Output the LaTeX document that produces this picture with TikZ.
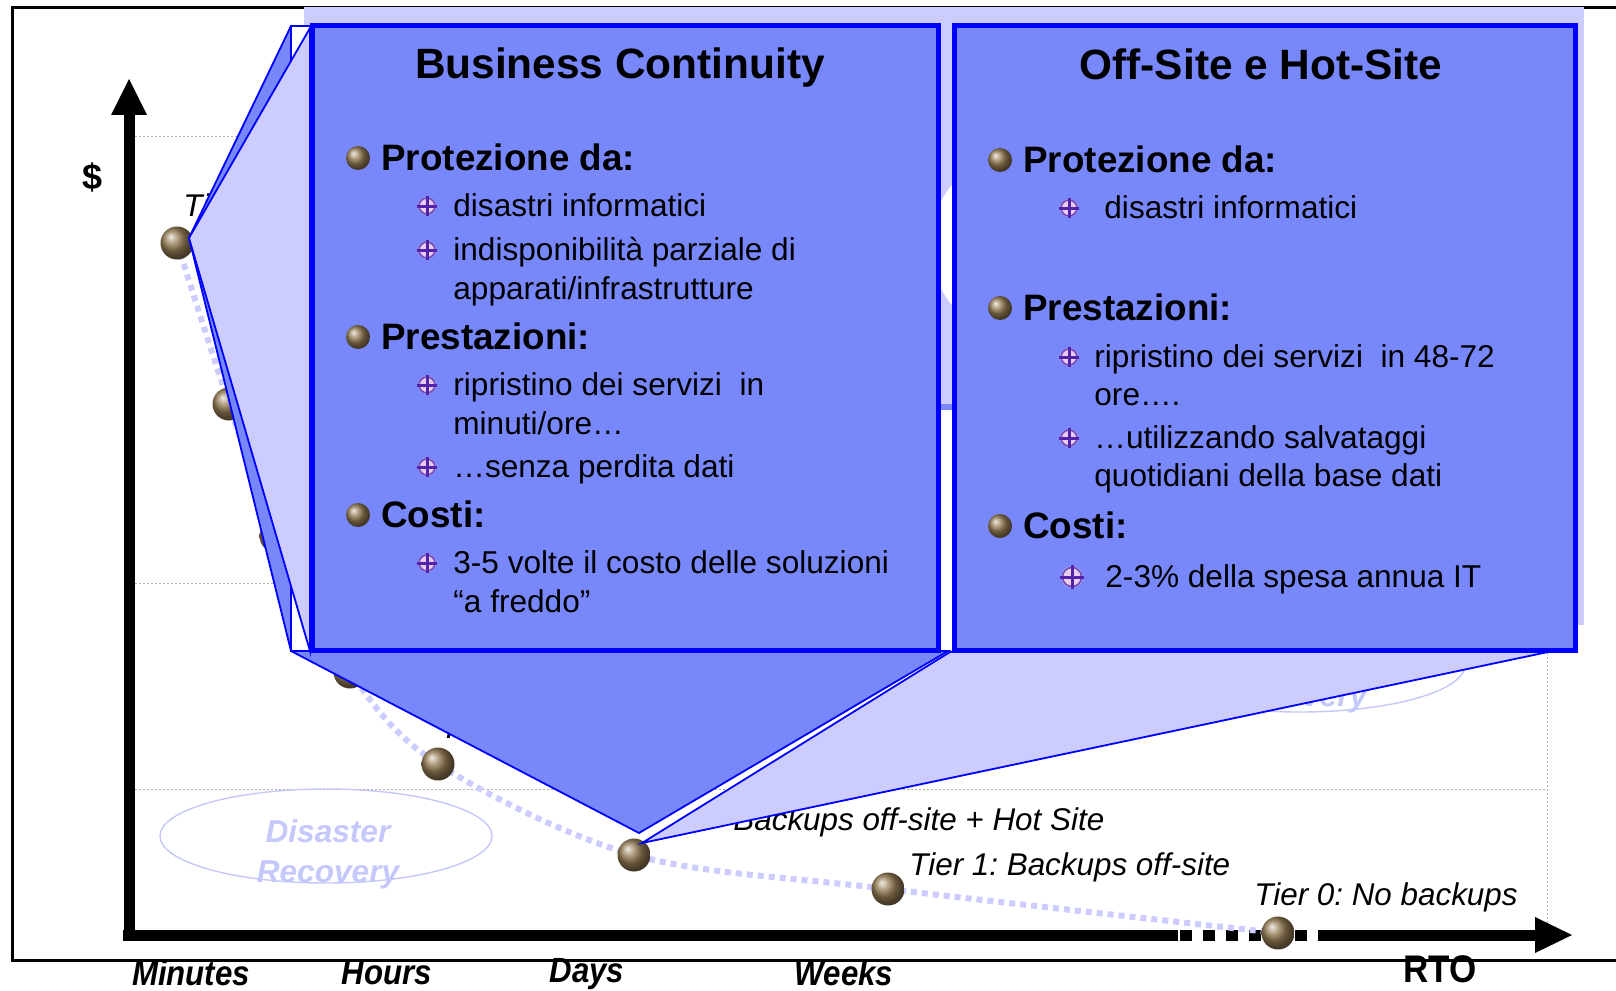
\documentclass[tikz,border=0pt]{standalone}
\usepackage{fontspec}
\setmainfont{Liberation Sans}
\usepackage{graphicx}
\frenchspacing

\definecolor{boxblue}{RGB}{120,136,250}
\definecolor{lavender}{RGB}{204,204,255}
\definecolor{faintblue}{RGB}{196,200,250}
\definecolor{bronze}{RGB}{150,125,85}
\definecolor{iconpurple}{RGB}{80,35,170}
\definecolor{iconlight}{RGB}{232,205,238}
\definecolor{gridgray}{RGB}{175,175,175}

\tikzset{
  subicon/.pic={
    \fill[iconlight] (0,0) circle [radius=9];
    \draw[iconpurple!80, line width=0.9pt] (0,0) circle [radius=8];
    \draw[iconpurple, line width=1.5pt] (-10,0) -- (10,0) (0,-10) -- (0,10);
  }
}

\begin{document}
\begin{tikzpicture}[x=0.5pt, y=-0.5pt,
  grid/.style={gridgray, line width=0.5pt, dash pattern=on 1pt off 1pt},
  axis/.style={line width=5.5pt},
  tiercurve/.style={lavender, line width=3pt, dash pattern=on 3pt off 2.5pt},
  tierball/.style={circle, minimum size=16.5pt, inner sep=0pt, shading=ball, ball color=bronze},
  bulletball/.style={circle, minimum size=12pt, inner sep=0pt, shading=ball, ball color=bronze},
  tierlabel/.style={anchor=base west, inner sep=0pt, font=\itshape\fontsize{15.7}{19}\selectfont},
  drlabel/.style={faintblue, anchor=base, inner sep=0pt, font=\bfseries\itshape\fontsize{15.8}{20}\selectfont},
  drline/.style={faintblue, line width=0.7pt},
  callout/.style={draw=blue, line width=0.9pt},
  infobox/.style={draw=blue, fill=boxblue, line width=2.5pt, inner sep=0pt},
  boxtitle/.style={anchor=base, inner sep=0pt, font=\bfseries\fontsize{21.2}{25}\selectfont},
  head/.style={anchor=base west, inner sep=0pt, font=\bfseries\fontsize{18.4}{22}\selectfont},
  subtext/.style={anchor=base west, inner sep=0pt, font=\fontsize{15.8}{19}\selectfont},
  axislabel/.style={inner sep=0pt, font=\bfseries\itshape\fontsize{15.6}{18}\selectfont}]
\useasboundingbox (0,0) rectangle (1616,990);
\fill[white] (0,0) rectangle (1616,990);

% frame and grid
\draw[line width=1.5pt] (12,8) rectangle (1660,960);
\draw[grid] (135,137) -- (1547,137);
\draw[grid] (135,583) -- (1547,583);
\draw[grid] (135,789) -- (1547,789);
\draw[grid] (1547,137) -- (1547,925);

% axes
\coordinate (ytip) at (129,79);
\coordinate (xtip) at (1572,935);
\draw[axis] (129,941) -- (129,112);
\fill (111,115) -- (147,115) -- (ytip) -- cycle;
\draw[axis] (123,935) -- (1178,935);
\draw[axis, dash pattern=on 6pt off 5.5pt] (1180,935) -- (1325,935);
\draw[axis] (1325,935) -- (1538,935);
\fill (1535,917) -- (1535,953) -- (xtip) -- cycle;

% recovery ellipses
\draw[drline] (326,836) ellipse [x radius=166, y radius=47];
\node[drlabel] (dr1) at (328,842) {Disaster};
\node[drlabel] (dr2) at (328,882) {Recovery};
\draw[drline] (1300,665) ellipse [x radius=165, y radius=47];
\node[drlabel] (rr) at (1296,706) {Recovery};

% tiers
\foreach \n/\x/\y in {7/177/243, 6/229/404, 5/276/536, 4/350/672,
                      3/438/764, 2/634/855, 1/888/889, 0/1278/933}
  \coordinate (p\n) at (\x,\y);
\draw[tiercurve] plot[smooth, tension=0.55] coordinates
  {(p7) (p6) (p5) (p4) (p3) (p2) (p1) (p0)};
\foreach \n in {0,...,7}
  \node[tierball] (t\n) at (p\n) {};

\node[tierlabel] (l7) at (183,216) {Tier 7};
\node[tierlabel] (l3) at (440,738) {Tier 3};
\node[tierlabel] (l2) at (733,830) {Backups off-site + Hot Site};
\node[tierlabel] (l1) at (909,875) {Tier 1: Backups off-site};
\node[tierlabel] (l0) at (1254,905) {Tier 0: No backups};

% zoom background
\fill[lavender] (304,7) rectangle (1584,625);
\fill[white] (1040,245) ellipse [x radius=110, y radius=100];
\fill[boxblue] (936,404) rectangle (957,410);
\fill[white] (936,410) rectangle (957,651);

% callouts
\coordinate (a7) at (189,238);
\coordinate (a2) at (639,833);
\coordinate (a2b) at (642,843);
\filldraw[callout, fill=boxblue] (291,26) -- (a7) -- (291,651) -- (a2)
  -- (948,651) -- (938,651) -- (938,26) -- cycle;
\filldraw[fill=white, draw=blue, line width=1.2pt] (291,26) rectangle (938,651);
\filldraw[callout, fill=lavender] (310,28) -- (a7) -- (310,651) -- cycle;
\filldraw[callout, fill=lavender] (a2b) -- (950,652) -- (1548,652) -- cycle;

% Business Continuity
\node[infobox, minimum width=313pt, minimum height=312pt] (bc) at (625,338) {};
\node[boxtitle] (bc-title) at (620,79) {Business Continuity};
\foreach \y in {158,337,515}
  \node[bulletball] at (358,\y) {};
\foreach \y in {206,250,385,467,563}
  \pic at (427,\y) {subicon};
\node[head] (bc-h1) at (381,170) {Protezione da:};
\node[subtext] (bc-s1) at (453,216) {disastri informatici};
\node[subtext] (bc-s2) at (453,260) {indisponibilità parziale di};
\node[subtext] (bc-s2b) at (453,299) {apparati/infrastrutture};
\node[head] (bc-h2) at (381,349) {Prestazioni:};
\node[subtext] (bc-s3) at (453,395) {ripristino dei servizi\ \ in};
\node[subtext] (bc-s3b) at (453,434) {minuti/ore…};
\node[subtext] (bc-s4) at (453,477) {…senza perdita dati};
\node[head] (bc-h3) at (381,527) {Costi:};
\node[subtext] (bc-s5) at (453,573) {3-5 volte il costo delle soluzioni};
\node[subtext] (bc-s5b) at (453,612) {“a freddo”};

% Off-Site e Hot-Site
\node[infobox, minimum width=310.5pt, minimum height=312pt] (os) at (1264.5,338) {};
\node[boxtitle] (os-title) at (1261,80) {Off-Site e Hot-Site};
\foreach \y in {160,308,526}
  \node[bulletball] at (1000,\y) {};
\foreach \y in {208,357,438}
  \pic at (1069,\y) {subicon};
\pic[scale=1.2] at (1072,577) {subicon};
\node[head] (os-h1) at (1023,172) {Protezione da:};
\node[subtext] (os-s1) at (1104,218) {disastri informatici};
\node[head] (os-h2) at (1023,320) {Prestazioni:};
\node[subtext] (os-s2) at (1094,367) {ripristino dei servizi\ \ in 48-72};
\node[subtext] (os-s2b) at (1094,405) {ore….};
\node[subtext] (os-s3) at (1094,448) {…utilizzando salvataggi};
\node[subtext] (os-s3b) at (1094,486) {quotidiani della base dati};
\node[head] (os-h3) at (1023,538) {Costi:};
\node[subtext] (os-s4) at (1105,587) {2-3\% della spesa annua IT};

% axis labels
\node[inner sep=0pt, font=\bfseries\fontsize{18}{22}\selectfont] (dollar) at (93,177) {\$};
\node[axislabel] (minutes) at (191,973) {\scalebox{1}[1.12]{Minutes}};
\node[axislabel] (hours) at (387,973) {\scalebox{1}[1.12]{Hours}};
\node[axislabel] (days) at (587,974) {\scalebox{1}[1.12]{Days}};
\node[axislabel] (weeks) at (844,973) {\scalebox{1}[1.12]{Weeks}};
\node[inner sep=0pt, font=\bfseries\fontsize{17.5}{21}\selectfont] (rto) at (1440,969) {\scalebox{1}[1.1]{RTO}};
\end{tikzpicture}
\end{document}
